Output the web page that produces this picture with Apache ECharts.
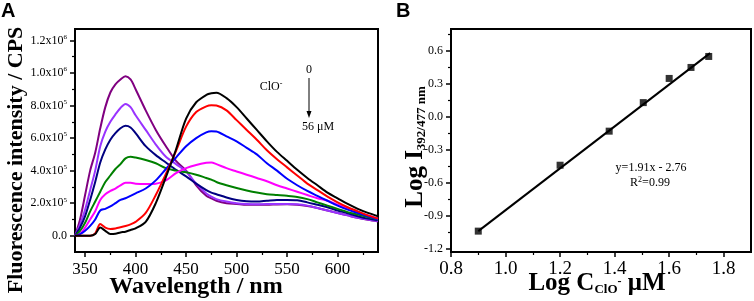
<!DOCTYPE html>
<html>
<head>
<meta charset="utf-8">
<script src="https://cdn.jsdelivr.net/npm/echarts@6/dist/echarts.min.js"></script>
<style>html,body{margin:0;padding:0;background:#fff}#c{width:754px;height:301px}</style>
</head>
<body>
<div id="c"></div>
<script>
// ---------- Panel A data (intensity in units of 1e5 CPS) ----------
const wavelength = [340,345,350,355,360,365,370,375,380,385,390,395,400,410,420,430,440,450,460,470,475,480,490,500,510,520,530,540,550,560,570,580,590,600,610,620,630,640];
const curve0  = [0,0,0,0,0.1,0.5,0.3,0.1,0.12,0.2,0.25,0.35,0.45,0.85,2.0,3.6,5.3,7.2,8.2,8.65,8.75,8.78,8.45,7.9,7.2,6.5,5.8,5.15,4.6,4.05,3.55,3.1,2.65,2.3,1.95,1.65,1.4,1.2];
const curve1  = [0,0,0,0,0.15,0.72,0.5,0.42,0.45,0.52,0.6,0.7,0.85,1.4,2.5,3.8,5.2,6.7,7.6,7.95,8.02,8.0,7.7,7.1,6.5,5.9,5.25,4.7,4.2,3.7,3.2,2.8,2.4,2.05,1.75,1.5,1.25,1.05];
const curve2  = [0,0.1,0.3,0.6,1.0,1.55,1.65,1.8,2.0,2.2,2.3,2.45,2.6,2.9,3.4,4.1,4.8,5.5,6.0,6.35,6.42,6.4,6.1,5.8,5.4,5.0,4.45,4.0,3.5,3.1,2.75,2.45,2.15,1.85,1.6,1.4,1.2,1.0];
const curve3  = [0,0.1,0.5,1.0,1.5,2.2,2.55,2.75,2.9,3.1,3.25,3.25,3.2,3.18,3.2,3.4,3.85,4.15,4.35,4.48,4.5,4.4,4.15,3.95,3.75,3.55,3.35,3.1,2.9,2.7,2.5,2.3,2.15,1.9,1.7,1.45,1.25,1.05];
const curve4  = [0,0.3,0.8,1.5,2.1,2.7,3.3,3.7,4.1,4.4,4.75,4.85,4.8,4.65,4.45,4.15,4.0,3.9,3.75,3.55,3.45,3.3,3.1,2.93,2.78,2.65,2.55,2.5,2.45,2.38,2.25,2.05,1.85,1.65,1.45,1.3,1.15,1.0];
const curve5  = [0,0.5,1.2,2.2,3.3,4.5,5.3,5.9,6.3,6.6,6.75,6.65,6.3,5.5,4.95,4.5,4.05,3.65,3.2,2.8,2.65,2.55,2.35,2.2,2.12,2.1,2.15,2.2,2.2,2.18,2.05,1.9,1.75,1.55,1.38,1.2,1.05,0.95];
const curve6  = [0,0.7,1.6,2.8,4.0,5.5,6.4,7.0,7.45,7.85,8.1,7.9,7.4,6.5,5.6,4.85,4.4,3.95,3.2,2.6,2.4,2.25,2.1,2.0,1.95,1.93,1.95,1.95,1.95,1.93,1.85,1.7,1.55,1.4,1.25,1.1,1.0,0.9];
const curve7  = [0,1.0,2.5,4.0,5.1,6.6,7.9,8.8,9.3,9.6,9.8,9.6,9.0,7.7,6.5,5.5,4.6,4.0,3.1,2.45,2.3,2.15,2.0,1.95,1.9,1.9,1.9,1.92,1.93,1.9,1.82,1.7,1.55,1.4,1.25,1.1,0.98,0.88];
const curves = [curve0,curve1,curve2,curve3,curve4,curve5,curve6,curve7];
const curveColors = ['#000000','#ff0000','#0000ff','#ff00ff','#008000','#000080','#9933ff','#800080'];
const xTicksA = [350,400,450,500,550,600];
const xMinorA = [375,425,475,525,575,625];
const yTicksA = [0,2,4,6,8,10,12];
const yMinorA = [1,3,5,7,9,11];

// ---------- Panel B data ----------
const logC = [0.90,1.20,1.38,1.505,1.60,1.68,1.745];
const logI = [-1.04,-0.44,-0.13,0.13,0.35,0.45,0.55];
const fitX = [0.90,1.75];
const fitY = [-1.04,0.58];
const xTicksB = [0.8,1.0,1.2,1.4,1.6,1.8];
const xMinorB = [0.9,1.1,1.3,1.5,1.7];
const yTicksB = [-1.2,-0.9,-0.6,-0.3,0.0,0.3,0.6];
const yMinorB = [-1.05,-0.75,-0.45,-0.15,0.15,0.45,0.75];

const SERIF = "'Liberation Serif','Times New Roman',serif";
const chart = echarts.init(document.getElementById('c'), null, {renderer:'canvas'});

function fmtA(v){
  if (Math.abs(v) < 1e-9) return '0.0';
  if (v >= 10) return (v/10).toFixed(1) + 'x10{s|6}';
  return v.toFixed(1) + 'x10{s|5}';
}
const axisLineStyle = {show:true, onZero:false, lineStyle:{color:'#000', width:2}};
function mainAxis(extra){ return Object.assign({type:'value', splitLine:{show:false}, axisLine:axisLineStyle}, extra); }
function minorAxis(extra){ return Object.assign({type:'value', splitLine:{show:false}, axisLine:{show:false, onZero:false}, axisLabel:{show:false}}, extra); }

const series = curves.map((d,i)=>({
  type:'line', xAxisIndex:0, yAxisIndex:0, showSymbol:false, smooth:0.3,
  data: wavelength.map((w,j)=>[w,d[j]]),
  lineStyle:{color:curveColors[i], width:2}, itemStyle:{color:curveColors[i]}, z: 2 + (8-i)
}));
series.push({type:'line', xAxisIndex:2, yAxisIndex:2, showSymbol:false, data: fitX.map((x,i)=>[x,fitY[i]]), lineStyle:{color:'#000', width:2}, z:3});
series.push({type:'scatter', xAxisIndex:2, yAxisIndex:2, symbol:'rect', symbolSize:7, itemStyle:{color:'#000'}, data: logC.map((x,i)=>[x,logI[i]]), z:4});

chart.setOption({
  animation:false,
  grid:[
    {left:75, top:29, width:303, height:223, show:true, borderColor:'#000', borderWidth:2, backgroundColor:'transparent'},
    {left:451, top:29, width:300, height:223, show:true, borderColor:'#000', borderWidth:2, backgroundColor:'transparent'}
  ],
  xAxis:[
    mainAxis({gridIndex:0, position:'bottom', min:340, max:640,
      axisTick:{show:true, inside:false, length:5, lineStyle:{width:1.5,color:'#000'}, customValues:xTicksA},
      axisLabel:{customValues:xTicksA, fontFamily:SERIF, fontSize:17, color:'#000', margin:9}}),
    minorAxis({gridIndex:0, position:'bottom', min:340, max:640,
      axisTick:{show:true, length:3, lineStyle:{width:1.2,color:'#000'}, customValues:xMinorA}}),
    mainAxis({gridIndex:1, position:'bottom', min:0.8, max:1.9,
      axisTick:{show:true, length:5, lineStyle:{width:1.5,color:'#000'}, customValues:xTicksB},
      axisLabel:{customValues:xTicksB, fontFamily:SERIF, fontSize:19, color:'#000', margin:8, formatter:v=>v.toFixed(1)}}),
    minorAxis({gridIndex:1, position:'bottom', min:0.8, max:1.9,
      axisTick:{show:true, length:3, lineStyle:{width:1.2,color:'#000'}, customValues:xMinorB}})
  ],
  yAxis:[
    mainAxis({gridIndex:0, position:'left', min:-1, max:12.7,
      axisTick:{show:true, length:5, lineStyle:{width:1.5,color:'#000'}, customValues:yTicksA},
      axisLabel:{customValues:yTicksA, fontFamily:SERIF, fontSize:12, color:'#000', margin:8, formatter:fmtA,
        rich:{s:{fontFamily:SERIF, fontSize:7, color:'#000', padding:[0,0,7,0]}}}}),
    minorAxis({gridIndex:0, position:'left', min:-1, max:12.7,
      axisTick:{show:true, length:3, lineStyle:{width:1.2,color:'#000'}, customValues:yMinorA}}),
    mainAxis({gridIndex:1, position:'left', min:-1.23, max:0.8,
      axisTick:{show:true, length:5, lineStyle:{width:1.5,color:'#000'}, customValues:yTicksB},
      axisLabel:{customValues:yTicksB, fontFamily:SERIF, fontSize:12, color:'#000', margin:8, formatter:v=>v.toFixed(1)}}),
    minorAxis({gridIndex:1, position:'left', min:-1.23, max:0.8,
      axisTick:{show:true, length:3, lineStyle:{width:1.2,color:'#000'}, customValues:yMinorB}})
  ],
  series: series,
  graphic:[
    {type:'text', x:1, y:1, style:{text:'A', font:"bold 20px 'Liberation Sans',Arial,sans-serif", fill:'#000'}},
    {type:'text', x:396, y:1, style:{text:'B', font:"bold 20px 'Liberation Sans',Arial,sans-serif", fill:'#000'}},
    {type:'text', x:196, y:287, style:{text:'Wavelength / nm', font:"bold 24px "+SERIF, fill:'#000', textAlign:'center', textVerticalAlign:'middle'}},
    {type:'text', x:16, y:160, rotation:Math.PI/2, style:{text:'Fluorescence intensity / CPS', font:"bold 22px "+SERIF, fill:'#000', textAlign:'center', textVerticalAlign:'middle'}},
    {type:'text', x:271, y:87, style:{text:'ClO{s|-}', font:"12px "+SERIF, fill:'#000', textAlign:'center', textVerticalAlign:'middle',
      rich:{s:{font:"8px "+SERIF, fill:'#000', padding:[0,0,6,0]}}}},
    {type:'text', x:309, y:70, style:{text:'0', font:"12px "+SERIF, fill:'#000', textAlign:'center', textVerticalAlign:'middle'}},
    {type:'line', shape:{x1:309, y1:78, x2:309, y2:112}, style:{stroke:'#000', lineWidth:1}},
    {type:'polygon', shape:{points:[[306.5,111],[311.5,111],[309,118]]}, style:{fill:'#000'}},
    {type:'text', x:318, y:127, style:{text:'56 μM', font:"12px "+SERIF, fill:'#000', textAlign:'center', textVerticalAlign:'middle'}},
    {type:'text', x:651, y:168, style:{text:'y=1.91x - 2.76', font:"12px "+SERIF, fill:'#000', textAlign:'center', textVerticalAlign:'middle'}},
    {type:'text', x:650, y:183, style:{text:'R{s|2}=0.99', font:"12px "+SERIF, fill:'#000', textAlign:'center', textVerticalAlign:'middle',
      rich:{s:{font:"8px "+SERIF, fill:'#000', padding:[0,0,6,0]}}}},
    {type:'text', x:597, y:284, style:{text:'{b|Log C}{sub|ClO}{sup|-}{b| μM}', textAlign:'center', textVerticalAlign:'middle',
      rich:{b:{font:"bold 25px "+SERIF, fill:'#000'}, sub:{font:"bold 13px "+SERIF, fill:'#000', padding:[12,0,0,0]}, sup:{font:"bold 12px "+SERIF, fill:'#000', padding:[0,0,4,0]}}}},
    {type:'text', x:416, y:147, rotation:Math.PI/2, style:{text:'{b|Log I}{sub|392/477 nm}', textAlign:'center', textVerticalAlign:'middle',
      rich:{b:{font:"bold 25px "+SERIF, fill:'#000'}, sub:{font:"bold 13px "+SERIF, fill:'#000', padding:[12,0,0,0]}}}}
  ]
});
</script>
</body>
</html>
